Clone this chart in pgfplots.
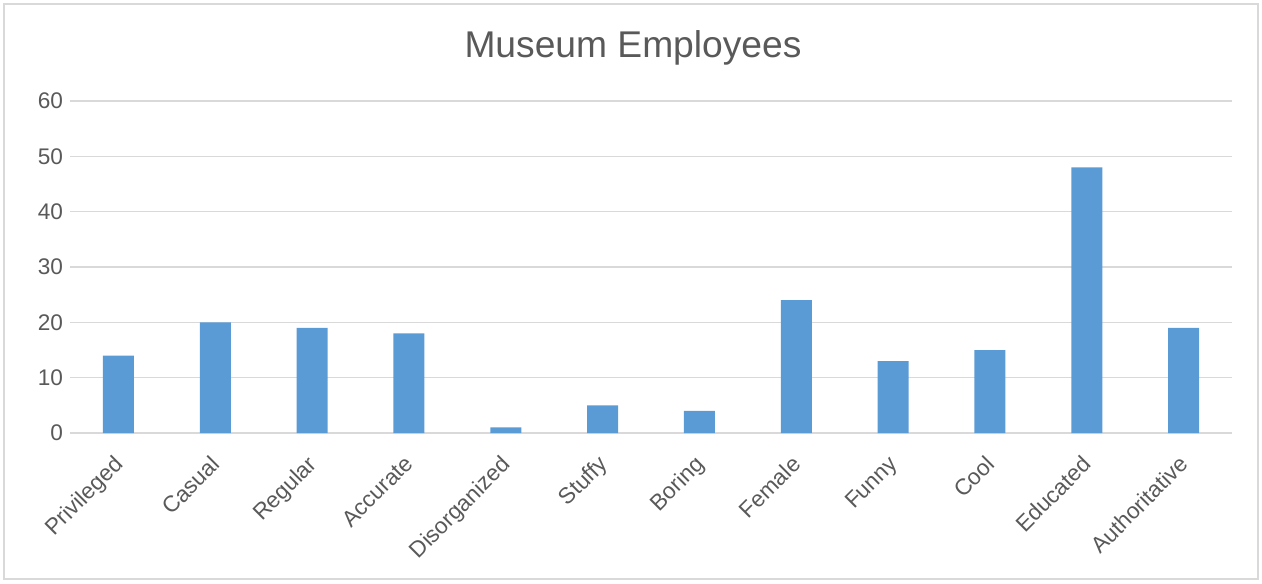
\documentclass[border=0pt]{standalone}
\usepackage{pgfplots}
\pgfplotsset{compat=1.18}
\usepackage{fontspec}
\setmainfont{Liberation Sans}
\definecolor{barblue}{HTML}{5B9BD5}
\definecolor{gridgray}{HTML}{D9D9D9}
\definecolor{txtgray}{HTML}{595959}
\begin{document}
\begin{tikzpicture}
\path[use as bounding box] (0,0) rectangle (631pt,-291.5pt);
\draw[gridgray, line width=0.75pt] (2pt,-2pt) rectangle (629pt,-289.5pt);
\node[txtgray, font=\fontsize{18.6}{21}\selectfont] at (316.5pt,-24pt) {Museum Employees};
\begin{axis}[
  at={(35pt,-216.5pt)}, anchor=south west,
  scale only axis, width=581pt, height=166pt,
  xmin=-0.5, xmax=11.5, ymin=0, ymax=60,
  ytick={0,10,...,60},
  xtick=data,
  xticklabels={Privileged,Casual,Regular,Accurate,Disorganized,Stuffy,Boring,Female,Funny,Cool,Educated,Authoritative},
  x tick label style={xshift=-2.8pt, yshift=-9pt, rotate=45, anchor=north east, inner sep=1pt},
  ticklabel style={font=\fontsize{11.3}{13}\selectfont, text=txtgray},
  /pgf/number format/assume math mode=true,
  yticklabel style={xshift=0pt},
  axis line style={draw=none},
  major tick style={draw=none},
  ymajorgrids, grid style={gridgray, line width=0.75pt},
  clip=false,
]
\addplot[ybar, bar width=15.5pt, fill=barblue, draw=none] coordinates {
(0,14) (1,20) (2,19) (3,18) (4,1) (5,5) (6,4) (7,24) (8,13) (9,15) (10,48) (11,19)
};
\end{axis}
\end{tikzpicture}
\end{document}
